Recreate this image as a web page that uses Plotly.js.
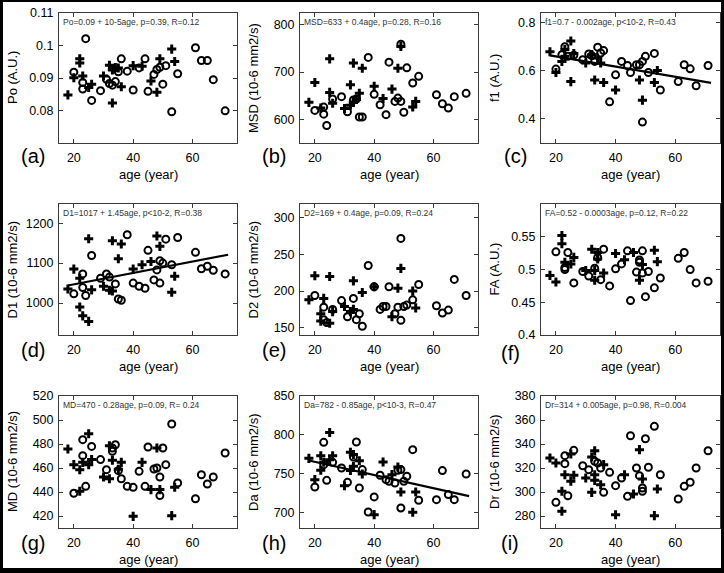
<!DOCTYPE html>
<html>
<head>
<meta charset="utf-8">
<script src="https://cdn.plot.ly/plotly-3.0.1.min.js"></script>
<style>html,body{margin:0;padding:0;background:#fff;}#chart{width:724px;height:573px;}</style>
</head>
<body>
<div id="chart"></div>
<script>
// ---- shared axis data ----
const ageTicks = [20, 40, 60];

// ---- (a) Po ----
const poCircAge = [20,23,23,24,26,29,31,32,33,34,35,36,38,40,42,44,45,47,48,49,50,51,53,55,61,63,65,67,71];
const poCircVal = [0.0918,0.0886,0.0866,0.1021,0.0831,0.0861,0.0896,0.0883,0.0878,0.0889,0.0919,0.0959,0.0921,0.0863,0.0931,0.0959,0.0859,0.0911,0.0926,0.0933,0.0881,0.0938,0.0796,0.0913,0.0993,0.0954,0.0954,0.0895,0.0799];
const poCrossAge = [18,20,22,22,23,25,26,30,32,33,33,34,35,36,40,43,46,48,49,53,54];
const poCrossVal = [0.0848,0.0901,0.0959,0.0946,0.0906,0.0871,0.0881,0.0906,0.0939,0.0925,0.0823,0.0932,0.0931,0.0873,0.0938,0.0936,0.0891,0.0856,0.0959,0.0989,0.0951];
const poTicks = [0.08, 0.09, 0.1, 0.11];

// ---- (b) MSD ----
const msdCircAge = [20,23,23,24,26,29,31,33,34,35,36,38,40,42,44,45,47,48,49,49,50,51,53,55,61,63,65,67,71];
const msdCircVal = [619,626,611,587,643,648,616,641,643,605,605,731,653,631,610,721,638,645,638,759,615,709,677,691,652,633,624,648,655];
const msdCrossAge = [18,20,22,25,25,26,30,32,32,33,33,34,35,36,40,43,46,48,49,53,54];
const msdCrossVal = [636,678,624,728,657,634,623,673,630,719,636,642,655,708,670,644,664,708,754,626,638];
const msdTicks = [600, 700, 800];

// ---- (c) f1 ----
const f1CircAge = [20,22,23,24,26,29,31,32,33,34,35,36,38,40,42,44,45,47,48,49,49,50,51,53,55,61,63,65,67,71];
const f1CircVal = [0.607,0.667,0.7,0.66,0.665,0.646,0.67,0.663,0.639,0.698,0.674,0.684,0.471,0.583,0.639,0.622,0.593,0.625,0.625,0.639,0.387,0.66,0.593,0.672,0.52,0.555,0.625,0.608,0.538,0.622];
const f1CrossAge = [18,20,22,23,23,25,25,26,30,32,33,34,35,36,40,48,49,53,54];
const f1CrossVal = [0.679,0.593,0.639,0.66,0.688,0.724,0.555,0.672,0.632,0.667,0.562,0.653,0.632,0.551,0.52,0.562,0.478,0.551,0.601];
const f1LineAge = [18, 72];
const f1LineVal = [0.664, 0.55];
const f1Ticks = [0.4, 0.6, 0.8];

// ---- (d) D1 ----
const d1CircAge = [20,23,23,24,26,29,31,32,34,35,36,38,40,42,44,45,47,48,49,49,50,51,53,55,61,63,65,67,71];
const d1CircVal = [1023,1073,1039,1019,1119,1062,1073,1065,1048,1010,1007,1171,1050,1042,1037,1132,1058,1083,1106,1050,1100,1160,1096,1164,1127,1086,1092,1082,1073];
const d1CrossAge = [18,20,22,22,23,25,25,26,30,32,33,33,35,36,40,43,46,48,49,53,54];
const d1CrossVal = [1035,1085,1062,990,968,954,1161,1033,1042,1032,1156,1030,1111,1148,1085,1096,1104,1168,1142,1027,1067];
const d1LineAge = [18, 72];
const d1LineVal = [1044, 1121];
const d1Ticks = [1000, 1100, 1200];

// ---- (e) D2 ----
const d2CircAge = [20,23,23,24,26,29,31,33,34,35,36,38,40,42,43,44,45,47,48,49,49,50,51,53,55,61,63,65,67,71];
const d2CircVal = [194,178,161,157,175,187,165,190,161,169,152,235,206,175,179,179,206,169,178,272,160,179,181,188,209,180,170,174,216,194];
const d2CrossAge = [18,20,22,22,23,25,25,26,30,32,33,33,36,40,46,48,49,53,54];
const d2CrossVal = [188,221,169,159,190,220,156,172,179,172,214,175,198,206,165,204,231,200,177];
const d2Ticks = [150, 200, 250, 300];

// ---- (f) FA ----
const faCircAge = [20,23,23,24,26,29,31,33,34,35,36,38,40,42,44,45,47,48,48,49,49,50,51,53,55,61,63,65,67,71];
const faCircVal = [0.527,0.5,0.503,0.526,0.4795,0.497,0.49,0.502,0.5185,0.4845,0.531,0.475,0.501,0.5085,0.5285,0.4525,0.496,0.5145,0.511,0.4945,0.5285,0.4585,0.497,0.472,0.487,0.517,0.526,0.5,0.4795,0.482];
const faCrossAge = [18,20,22,22,23,25,26,30,32,33,33,34,34,36,40,43,46,48,49,53,54];
const faCrossVal = [0.491,0.481,0.552,0.5395,0.511,0.5085,0.5185,0.4985,0.531,0.4985,0.4835,0.516,0.526,0.4945,0.5245,0.515,0.526,0.4835,0.5075,0.5295,0.512];
const faTicks = [0.4, 0.45, 0.5, 0.55];

// ---- (g) MD ----
const mdCircAge = [20,23,23,24,26,29,31,33,33,34,35,36,38,40,42,44,45,47,48,49,49,50,51,53,55,61,63,65,67,71];
const mdCircVal = [439,483.6,470.3,444.7,478,467,458.6,473.9,476.7,479.4,457.8,451,444.7,443.9,457.2,444.7,477.5,459.2,460,452.5,437,476.7,462.8,496.7,447.5,434.4,454.4,446.7,452.5,472.5];
const mdCrossAge = [18,20,22,22,23,25,25,26,30,32,32,33,35,36,40,43,46,48,49,53,54];
const mdCrossVal = [475.8,462.8,458.6,440.6,464.7,488.6,462.8,467,452.5,451,478.6,466.4,459,464.7,419.7,464.7,442,476.7,442,420.3,444];
const mdTicks = [420, 440, 460, 480, 500, 520];

// ---- (h) Da ----
const daCircAge = [20,23,23,24,26,29,31,33,34,35,36,38,40,42,44,45,47,48,49,49,50,51,53,55,61,63,65,67,71];
const daCircVal = [732.8,790.3,761.6,741.4,764.6,757.3,738.8,771.5,790.8,731.5,755.2,700.6,720,747.9,742.3,740.1,738,754.3,755.2,705.8,740.1,746.6,780.9,715.7,716.5,753.9,723,716.5,749.6];
const daCrossAge = [18,20,22,22,23,25,25,26,30,32,32,33,33,35,36,40,43,46,48,49,53,54];
const daCrossVal = [769.7,742.3,754.3,773,764.6,803,768,773,734.5,777.5,754,774.5,759.4,766.7,749.6,697.2,765,748.7,758.6,726.4,700.2,726.4];
const daLineAge = [18, 72];
const daLineVal = [767, 721];
const daTicks = [700, 750, 800, 850];

// ---- (i) Dr ----
const drCircAge = [20,23,23,24,26,29,31,33,34,35,36,38,40,42,44,45,47,48,49,49,50,51,53,55,61,63,65,67,71];
const drCircVal = [291.4,330.3,323.6,296.9,334.7,321.9,318.6,325.6,324.2,320,299.7,316.4,305.3,311.7,296.4,346.9,320,313.6,303.3,300.6,344.4,320.6,354.7,314.4,294.2,304.7,308.1,320,334.4];
const drCrossAge = [18,20,22,22,23,25,25,26,30,32,32,33,33,33,35,36,40,43,46,48,49,53,54];
const drCrossVal = [328.3,324.2,300.6,283.9,314.4,331.7,308.9,313.9,311.7,329.2,299.7,334.4,314.4,309.7,306.1,322.8,281.1,314.4,298.3,335.3,310.8,280.3,302.5];
const drTicks = [280, 300, 320, 340, 360, 380];

// ---- text ----
const panelLetters = ['(a)','(b)','(c)','(d)','(e)','(f)','(g)','(h)','(i)'];
const yTitles = ['Po (A.U.)','MSD (10-6 mm2/s)','f1 (A.U.)','D1 (10-6 mm2/s)','D2 (10-6 mm2/s)','FA (A.U.)','MD (10-6 mm2/s)','Da (10-6 mm2/s)','Dr (10-6 mm2/s)'];
const equations = [
  'Po=0.09 + 10-5age, p=0.39, R=0.12',
  'MSD=633 + 0.4age, p=0.28, R=0.16',
  'f1=0.7 - 0.002age, p<10-2, R=0.43',
  'D1=1017 + 1.45age, p<10-2, R=0.38',
  'D2=169 + 0.4age, p=0.09, R=0.24',
  'FA=0.52 - 0.0003age, p=0.12, R=0.22',
  'MD=470 - 0.28age, p=0.09, R= 0.24',
  'Da=782 - 0.85age, p<10-3, R=0.47',
  'Dr=314 + 0.005age, p=0.98, R=0.004'
];
const xTitle = 'age (year)';

// ---- panel assembly ----
const panels = [
  {c:[poCircAge,poCircVal], x:[poCrossAge,poCrossVal], l:null, r:[0.07,0.11], t:poTicks, tt:['0.08','0.09','0.1','0.11']},
  {c:[msdCircAge,msdCircVal], x:[msdCrossAge,msdCrossVal], l:null, r:[550,825], t:msdTicks},
  {c:[f1CircAge,f1CircVal], x:[f1CrossAge,f1CrossVal], l:[f1LineAge,f1LineVal], r:[0.3,0.84], t:f1Ticks},
  {c:[d1CircAge,d1CircVal], x:[d1CrossAge,d1CrossVal], l:[d1LineAge,d1LineVal], r:[920,1248], t:d1Ticks},
  {c:[d2CircAge,d2CircVal], x:[d2CrossAge,d2CrossVal], l:null, r:[140,319], t:d2Ticks},
  {c:[faCircAge,faCircVal], x:[faCrossAge,faCrossVal], l:null, r:[0.4,0.6], t:faTicks, tt:['0.4','0.45','0.5','0.55']},
  {c:[mdCircAge,mdCircVal], x:[mdCrossAge,mdCrossVal], l:null, r:[410,520], t:mdTicks},
  {c:[daCircAge,daCircVal], x:[daCrossAge,daCrossVal], l:[daLineAge,daLineVal], r:[680,850], t:daTicks},
  {c:[drCircAge,drCircVal], x:[drCrossAge,drCrossVal], l:null, r:[270,380], t:drTicks}
];

const W = 724, H = 573;
const colL = [59, 300, 541], colR = [237, 478, 720];
const rowT = [13, 204, 396], rowB = [143, 335, 528];
const letterDx = [-26, -26, -26, -26, -26, -31, -26, -26, -31];
const letterDy = [13, 13, 13, 15, 15, 18, 15, 15, 15];
const FONT = 'Liberation Sans, Arial, Helvetica, sans-serif';
const AX = '#3a3a3a';

const data = [];
const layout = {
  width: W, height: H,
  margin: {l:0, r:0, t:0, b:0, pad:0},
  paper_bgcolor: '#ffffff', plot_bgcolor: '#ffffff',
  showlegend: false,
  font: {family: FONT, color: '#000'},
  annotations: [], shapes: []
};

panels.forEach((p, i) => {
  const col = i % 3, row = Math.floor(i / 3);
  const sfx = i === 0 ? '' : String(i + 1);
  const xa = 'x' + sfx, ya = 'y' + sfx;
  data.push({type:'scatter', mode:'markers', x:p.c[0], y:p.c[1], xaxis:xa, yaxis:ya,
    marker:{symbol:'circle-open', size:7, color:'#000', line:{width:2, color:'#000'}}, hoverinfo:'skip'});
  data.push({type:'scatter', mode:'markers', x:p.x[0], y:p.x[1], xaxis:xa, yaxis:ya,
    marker:{symbol:'cross-thin-open', size:6.5, color:'#000', line:{width:3, color:'#000'}}, hoverinfo:'skip'});
  if (p.l) {
    data.push({type:'scatter', mode:'lines', x:p.l[0], y:p.l[1], xaxis:xa, yaxis:ya,
      line:{color:'#000', width:2.2}, hoverinfo:'skip'});
  }
  const common = {showgrid:false, zeroline:false, showline:true, linecolor:AX, linewidth:1,
    mirror:'ticks', ticks:'inside', ticklen:4, tickwidth:1, tickcolor:AX,
    tickfont:{size:12.5, family:FONT, color:'#000'}, fixedrange:true};
  layout['xaxis' + sfx] = Object.assign({}, common, {
    domain:[colL[col]/W, colR[col]/W], range:[15, 75], tickvals:ageTicks, anchor:ya, ticklabelstandoff:3});
  const yax = Object.assign({}, common, {
    domain:[1 - rowB[row]/H, 1 - rowT[row]/H], range:p.r, tickvals:p.t, anchor:xa, ticklabelstandoff:2});
  if (p.tt) yax.ticktext = p.tt;
  layout['yaxis' + sfx] = yax;

  const midX = (colL[col] + colR[col]) / 2 / W;
  const midY = 1 - (rowT[row] + rowB[row]) / 2 / H;
  layout.annotations.push({xref:'paper', yref:'paper', x:(colL[col] - 47)/W, y:midY,
    text:yTitles[i], textangle:-90, showarrow:false, xanchor:'center', yanchor:'middle',
    font:{size:13, family:FONT, color:'#000'}});
  layout.annotations.push({xref:'paper', yref:'paper', x:midX, y:1 - (rowB[row] + 31)/H,
    text:xTitle, showarrow:false, xanchor:'center', yanchor:'middle',
    font:{size:13, family:FONT, color:'#000'}});
  layout.annotations.push({xref:'paper', yref:'paper', x:(colL[col] + letterDx[i])/W, y:1 - (rowB[row] + letterDy[i])/H,
    text:panelLetters[i], showarrow:false, xanchor:'center', yanchor:'middle',
    font:{size:20, family:FONT, color:'#000'}});
  layout.annotations.push({xref:'paper', yref:'paper', x:(colL[col] + 2)/W, y:1 - (rowT[row] + 9)/H,
    text:equations[i], showarrow:false, xanchor:'left', yanchor:'middle',
    font:{size:8.5, family:FONT, color:'#333'}});
});

// black outer frame
const fr = [[0, 3/W, 0, 1], [1 - 3/W, 1, 0, 1], [0, 1, 1 - 2/H, 1], [0, 1, 0, 5/H]];
fr.forEach(f => layout.shapes.push({type:'rect', xref:'paper', yref:'paper',
  x0:f[0], x1:f[1], y0:f[2], y1:f[3], fillcolor:'#000', line:{width:0}, layer:'above'}));

Plotly.newPlot('chart', data, layout, {displayModeBar:false, staticPlot:true});
</script>
</body>
</html>
